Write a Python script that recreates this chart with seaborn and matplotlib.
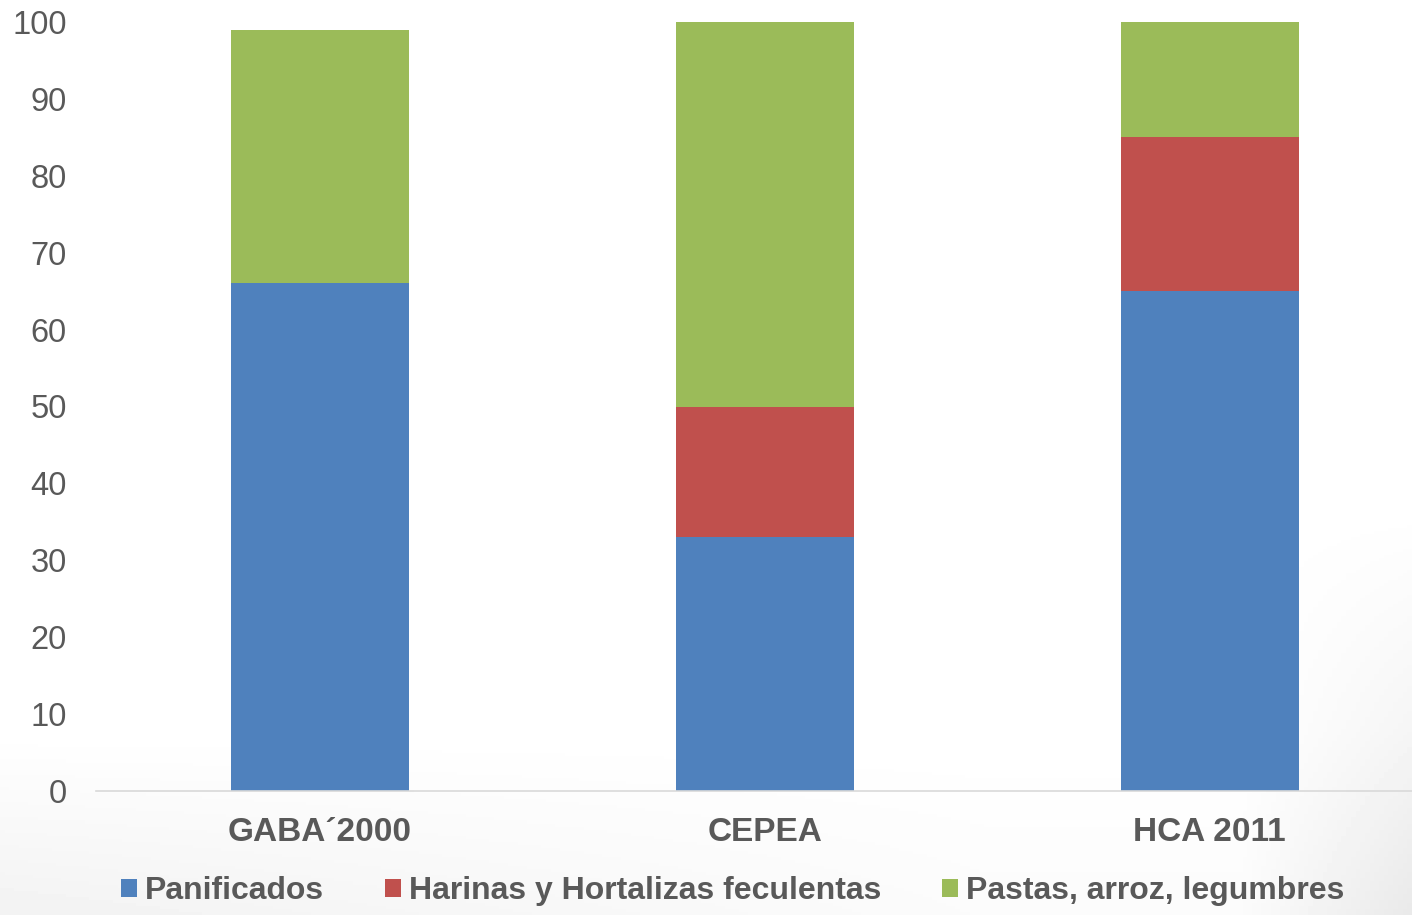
import numpy as np
import pandas as pd
import seaborn as sns
import matplotlib.pyplot as plt
from matplotlib.patches import Patch

# Datos
fuentes = ['GABA´2000', 'CEPEA', 'HCA 2011']
panificados = [66, 33, 65]
harinas = [0, 17, 20]
pastas = [33, 50, 15]

series = ['Panificados', 'Harinas y Hortalizas feculentas', 'Pastas, arroz, legumbres']
colores = ['#4F81BD', '#C0504D', '#9BBB59']

df = pd.DataFrame({'fuente': fuentes, 'pan': panificados, 'har': harinas, 'pas': pastas})
df['c1'] = df['pan']
df['c2'] = df['pan'] + df['har']
df['c3'] = df['pan'] + df['har'] + df['pas']

sns.set_theme(style='white')
plt.rcParams['font.family'] = ['Liberation Sans', 'DejaVu Sans']
gris = '#595959'

fig = plt.figure(figsize=(14.12, 9.15), dpi=100)

# fondo con degradado suave (esquinas inferiores)
bg = fig.add_axes([0, 0, 1, 1], zorder=-1)
yy, xx = np.mgrid[0:1:300j, 0:1:300j]
grad = (np.clip((0.2 - yy) / 0.2, 0, 1) * 0.05 * np.clip(1.0 - xx, 0.3, 1)
        + np.clip((xx - 0.88) / 0.12, 0, 1) * np.clip((0.45 - yy) / 0.45, 0, 1) * 0.07)
bg.imshow(1 - grad, cmap='gray', vmin=0, vmax=1, origin='lower', extent=[0, 1, 0, 1], aspect='auto')
bg.set_axis_off()

ax = fig.add_axes([96 / 1412, 124 / 915, 1316 / 1412, 769 / 915])
ax.patch.set_alpha(0)

# barras apiladas: se dibujan los acumulados de mayor a menor
for col, color in zip(['c3', 'c2', 'c1'], colores[::-1]):
    sns.barplot(data=df, x='fuente', y=col, color=color, width=0.40,
                saturation=1, ax=ax, linewidth=0)

ax.set_xlim(-0.503, 2.455)
ax.set_ylim(0, 100)
ax.set_yticks(range(0, 101, 10))
ax.set_xlabel('')
ax.set_ylabel('')
for s in ['top', 'right', 'left']:
    ax.spines[s].set_visible(False)
ax.spines['bottom'].set_color('#d9d9d9')
ax.spines['bottom'].set_linewidth(1.2)
ax.tick_params(axis='y', length=0, pad=21, labelsize=23.5, labelcolor=gris)
ax.tick_params(axis='x', length=0, pad=19, labelsize=24, labelcolor=gris)
for lbl in ax.get_xticklabels():
    lbl.set_fontweight('bold')

handles = [Patch(facecolor=c, edgecolor='none') for c in colores]
fig.legend(handles, series, loc='center', ncol=3, frameon=False,
           bbox_to_anchor=(0.519, 1 - 891 / 915),
           prop={'size': 23, 'weight': 'bold'}, labelcolor=gris,
           handlelength=0.5, handleheight=0.5, handletextpad=0.25,
           columnspacing=1.9)

fig.savefig('out.png', dpi=100)
